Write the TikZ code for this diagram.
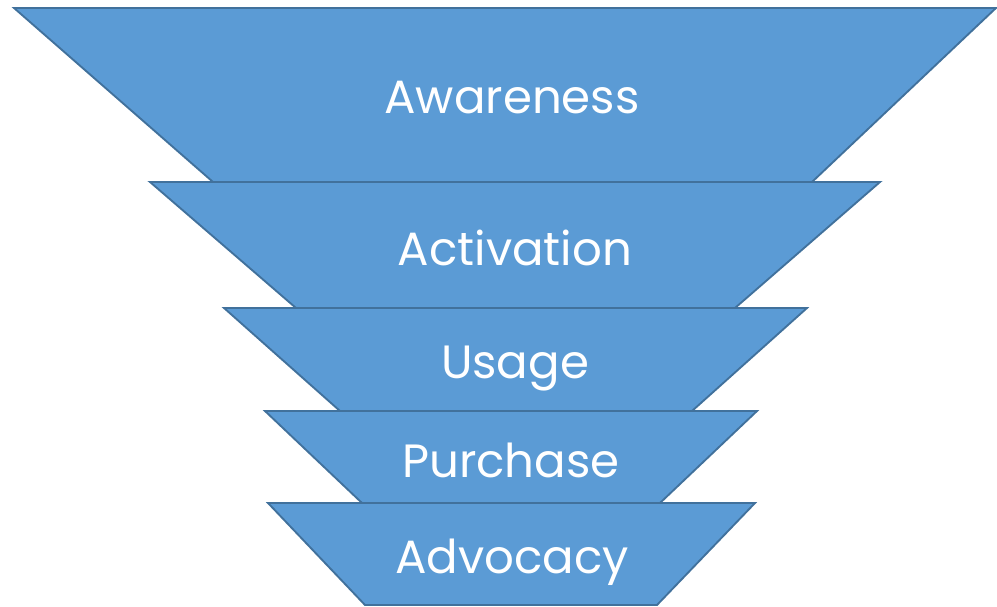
\documentclass[tikz,border=0pt]{standalone}
\usepackage{fontspec}
\setmainfont{Poppins}
\usetikzlibrary{calc}
\definecolor{funnelfill}{HTML}{5B9BD5}
\definecolor{funneledge}{HTML}{41719C}
\tikzstyle{stage}=[fill=funnelfill,draw=funneledge,line width=1.4pt]
\tikzstyle{stagelabel}=[text=white,font=\fontsize{35}{40}\selectfont,inner sep=0pt,anchor=base]

\begin{document}
\begin{tikzpicture}[x=0.75pt,y=-0.75pt]

   \useasboundingbox (0,0) rectangle (997,607);

    % funnel stages, top to bottom
    \foreach \tl/\tr/\br/\bl/\yt/\yb in {14/996/812/213/8/182, 150/880/735/296/182/308, 224/807/692/340/308/411, 265/757/660/362/411/503, 268/755/657/365/503/605}
        \draw[stage] (\tl,\yt) -- (\tr,\yt) -- (\br,\yb) -- (\bl,\yb) -- cycle;

    \foreach \pos/\name/\txt in {{(512,113)/aware/Awareness}, {(515,265)/activ/Activation}, {(515,378)/usage/Usage}, {(511,477)/purch/Purchase}, {(512,573)/advoc/Advocacy}}
        \node[stagelabel] (\name) at \pos {\txt};

\end{tikzpicture}
\end{document}
